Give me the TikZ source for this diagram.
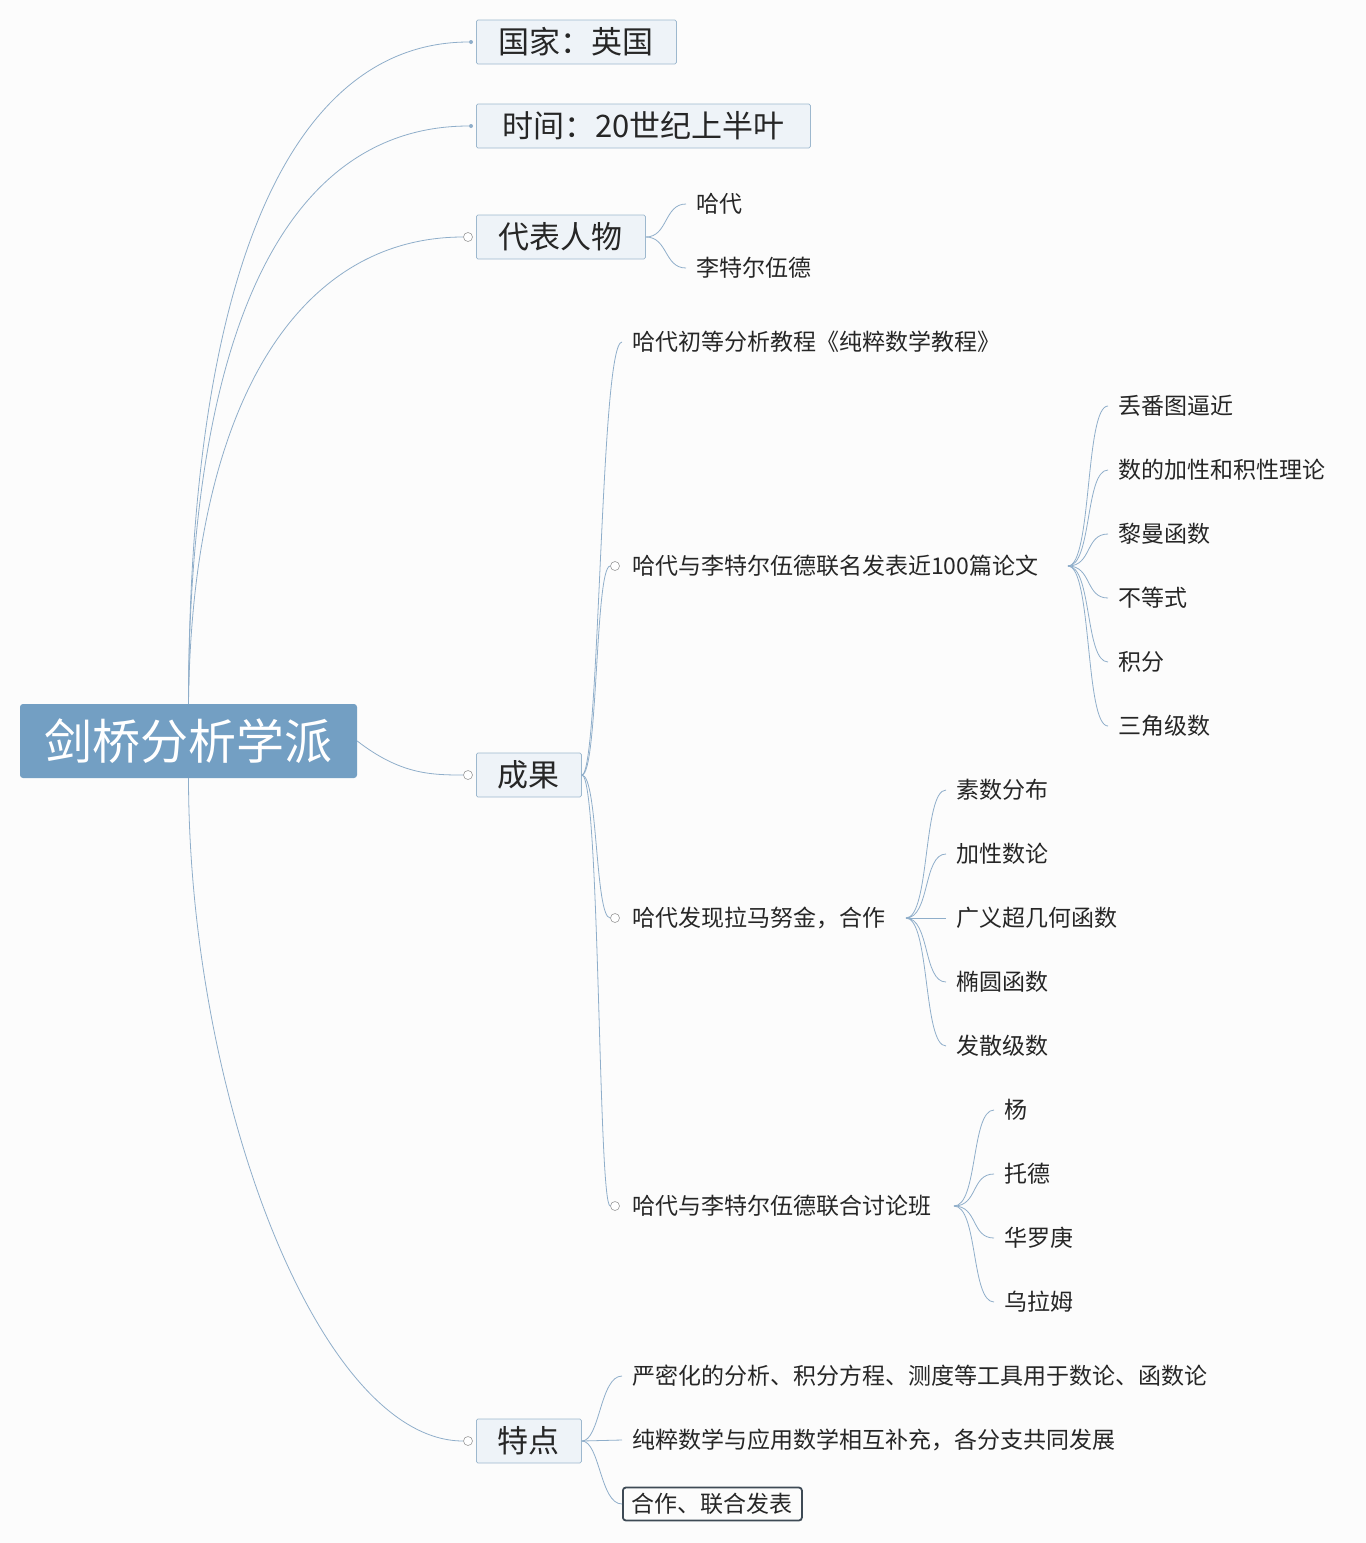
\documentclass[tikz,border=0pt]{standalone}
\usepackage{fontspec}
\setmainfont{Noto Sans CJK SC}
\begin{document}
\begin{tikzpicture}[x=1pt,y=-1pt,
  ln/.style={draw=lc,line width=0.8pt},
  l1/.style={draw=bc,fill=bf,rounded corners=1.5pt,line width=0.8pt,anchor=west,minimum height=44pt,inner xsep=20pt,font=\fontsize{31}{34}\selectfont,text=black!85},
  lf/.style={anchor=west,inner xsep=10pt,inner ysep=0pt,font=\fontsize{23}{26}\selectfont,text=black!85},
  cc/.style={circle,draw=gray!80,fill=white,inner sep=0pt,minimum size=9pt,line width=0.6pt},
  dt/.style={circle,fill=lc,inner sep=0pt,minimum size=4pt}]
\definecolor{lc}{HTML}{8FAECA}
\definecolor{bc}{HTML}{9DB8CE}
\definecolor{bf}{HTML}{EEF3F8}
\definecolor{rf}{HTML}{739FC3}
\useasboundingbox[fill={rgb,255:red,252;green,252;blue,252}] (0,0) rectangle (1366,1543);
% root
\node[fill=rf,rounded corners=3pt,minimum width=337pt,minimum height=74pt,text=white,font=\fontsize{48}{52}\selectfont] (root) at (188.5,741) {剑桥分析学派};
% level 1
\node[l1,minimum width=200pt] (a) at (476,42) {国家：英国};
\node[l1,minimum width=334pt] (b) at (476,126) {时间：20世纪上半叶};
\node[l1,minimum width=169pt] (c) at (476,237) {代表人物};
\node[l1,minimum width=105pt] (d) at (476,775) {成果};
\node[l1,minimum width=105pt] (e) at (476,1441) {特点};
\node[dt] (ad) at (471,42) {};
\node[dt] (bd) at (471,126) {};
\node[cc] (cc) at (468,237) {};
\node[cc] (dc) at (468,775) {};
\node[cc] (ec) at (468,1441) {};
\draw[ln] (root.north) .. controls (189,250) and (300,42) .. (ad);
\draw[ln] (root.north) .. controls (189,300) and (300,126) .. (bd);
\draw[ln] (root.north) .. controls (192,400) and (300,237) .. (cc.west);
\draw[ln] (root.east) .. controls (400,774) and (430,775) .. (dc.west);
\draw[ln] (root.south) .. controls (189,1100) and (320,1441) .. (ec.west);
% 代表人物
\node[lf] (c1) at (686,204) {哈代};
\node[lf] (c2) at (686,268) {李特尔伍德};
\draw[ln] (c.east) .. controls (668,237) and (664,204) .. (c1.west);
\draw[ln] (c.east) .. controls (668,237) and (664,268) .. (c2.west);
% 成果
\node[lf] (d1) at (622,342) {哈代初等分析教程《纯粹数学教程》};
\node[lf] (d2) at (622,566) {哈代与李特尔伍德联名发表近100篇论文};
\node[lf] (d3) at (622,918) {哈代发现拉马努金，合作};
\node[lf] (d4) at (622,1206) {哈代与李特尔伍德联合讨论班};
\node[cc] (d2c) at (615,566) {};
\node[cc] (d3c) at (615,918) {};
\node[cc] (d4c) at (615,1206) {};
\draw[ln] (d.east) .. controls (600,775) and (600,342) .. (d1.west);
\draw[ln] (d.east) .. controls (598,775) and (595,566) .. (d2c.west);
\draw[ln] (d.east) .. controls (598,775) and (595,918) .. (d3c.west);
\draw[ln] (d.east) .. controls (600,775) and (598,1206) .. (d4c.west);
% group 2
\coordinate (o2) at (1068,566);
\foreach \t [count=\i] in {丢番图逼近,数的加性和积性理论,黎曼函数,不等式,积分,三角级数}{
  \pgfmathsetmacro\yy{342+64*\i}
  \node[lf] (g2\i) at (1108,\yy) {\t};
  \draw[ln] (o2) .. controls (1092,566) and (1085,\yy) .. (g2\i.west);}
% group 3
\coordinate (o3) at (906,918);
\foreach \t [count=\i] in {素数分布,加性数论,广义超几何函数,椭圆函数,发散级数}{
  \pgfmathsetmacro\yy{726+64*\i}
  \node[lf] (g3\i) at (946,\yy) {\t};
  \draw[ln] (o3) .. controls (930,918) and (923,\yy) .. (g3\i.west);}
% group 4
\coordinate (o4) at (954,1206);
\foreach \t [count=\i] in {杨,托德,华罗庚,乌拉姆}{
  \pgfmathsetmacro\yy{1046+64*\i}
  \node[lf] (g4\i) at (994,\yy) {\t};
  \draw[ln] (o4) .. controls (978,1206) and (971,\yy) .. (g4\i.west);}
% 特点
\node[lf] (e1) at (622,1376) {严密化的分析、积分方程、测度等工具用于数论、函数论};
\node[lf] (e2) at (622,1440) {纯粹数学与应用数学相互补充，各分支共同发展};
\node[draw={rgb,255:red,62;green,74;blue,85},line width=1.8pt,rounded corners=3pt,anchor=west,inner xsep=9pt,minimum height=33pt,font=\fontsize{23}{26}\selectfont,text=black!85] (e3) at (622,1504) {合作、联合发表};
\draw[ln] (e.east) .. controls (600,1441) and (600,1376) .. (e1.west);
\draw[ln] (e.east) -- (e2.west);
\draw[ln] (e.east) .. controls (600,1441) and (600,1504) .. (e3.west);
\end{tikzpicture}
\end{document}
